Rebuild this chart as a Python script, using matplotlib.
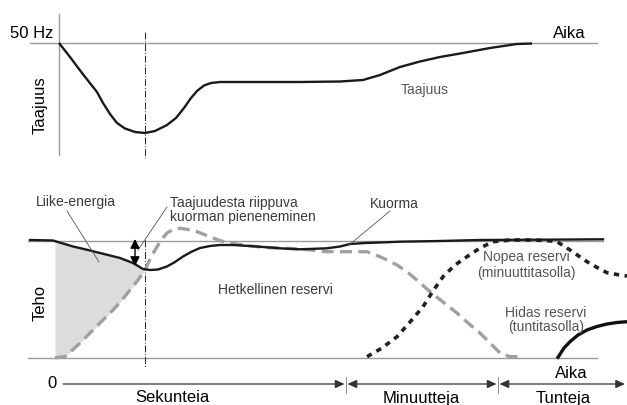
import numpy as np
import matplotlib
matplotlib.use("Agg")
import matplotlib.pyplot as plt

plt.rcParams['font.family'] = ['Liberation Sans', 'DejaVu Sans']

# Frequency curve (top panel) in pixel units
freq_x = [59, 70, 82, 97, 103, 110, 117, 125, 135, 145, 155, 167, 176, 184, 191, 197, 204, 211, 220, 240, 270, 300, 340, 363, 380, 400, 420, 440, 463, 490, 517, 532]
freq_y = [43, 57, 73, 92, 103, 114, 123, 128.5, 132, 133, 131, 125, 118, 108, 98, 91, 85.5, 83, 82, 82, 82, 82, 81.5, 80, 75, 67, 61.5, 57, 53, 48, 44, 43.5]

# Load curve ("Kuorma")
load_x = [30, 53, 63, 73, 86, 100, 120, 133, 143, 150, 158, 167, 175, 183, 192, 200, 210, 220, 233, 250, 267, 283, 300, 327, 340, 350, 365, 380, 400, 440, 480, 540, 603]
load_y = [240, 240.5, 243.5, 246.5, 249.5, 253, 258, 263, 269, 270, 269.5, 266.5, 262, 256.5, 251.5, 248, 246, 245, 245, 246, 247.3, 248.5, 249.3, 248.3, 246.5, 244, 243, 242.5, 241.7, 241, 240, 239.7, 239.3]

# Instantaneous reserve (grey dashed)
inst_x = [55, 65, 78, 90, 102, 113, 122, 130, 138, 145, 151, 157, 162, 167, 173, 180, 188, 197, 208, 220, 233, 250, 267, 300, 327, 347, 367, 380, 387, 397, 407, 418, 430, 443, 457, 468, 480, 490, 500, 510, 522]
inst_y = [357.7, 356.7, 345, 333, 321, 310, 300, 290, 280, 270, 257, 246.7, 239, 233, 229.5, 228.3, 229.5, 231.7, 236, 240.7, 243.5, 246, 247.5, 249, 251.7, 251.7, 251.7, 256.7, 260, 265, 271.7, 281, 291.7, 302, 313, 323, 333, 343, 353, 356.7, 356.7]

# Fast reserve, minute scale (black dotted)
fast_x = [367, 382, 397, 410, 423, 433, 443, 455, 467, 480, 493, 510, 533, 548, 557, 570, 587, 598, 607, 617, 627]
fast_y = [356.7, 348, 336.7, 322, 306.7, 291, 276.7, 265, 256.7, 248, 241.7, 240, 240, 240.7, 241.7, 250, 261.7, 268, 272.7, 274.5, 276]

# Slow reserve, hour scale (black solid)
slow_x = [558, 564, 570, 578, 587, 597, 607, 617, 627]
slow_y = [357.3, 348, 341.7, 335, 330, 326.5, 324, 322.5, 321.7]

# Time scale segments and labels
seg_edges = [63, 346, 498, 625]
seg_labels = ['Sekunteia', 'Minuutteja', 'Tunteja']
seg_label_x = [172, 421, 563]

fig = plt.figure(figsize=(6.27, 4.05), dpi=100)
ax = fig.add_axes([0, 0, 1, 1])
ax.set_xlim(0, 627)
ax.set_ylim(405, 0)
ax.axis('off')

ref = '#9a9a9a'
txt = '#3a3a3a'
small = 10

# ---- top panel: frequency ----
ax.plot([59, 59], [14, 155], color=ref, lw=1.0)
ax.plot([30, 597], [43, 43], color=ref, lw=1.0)
ax.plot([145, 145], [32, 158], color='#222', lw=0.7, linestyle=(0, (7, 2, 1, 2)))
ax.plot(freq_x, freq_y, color='#1a1a1a', lw=1.7, solid_capstyle='butt')
ax.text(53, 34, '50 Hz', fontsize=12, ha='right', va='center')
ax.text(569, 34, 'Aika', fontsize=12, ha='center', va='center')
ax.text(40, 105, 'Taajuus', fontsize=12, rotation=90, ha='center', va='center')
ax.text(425, 90, 'Taajuus', fontsize=small, color='#555', ha='center', va='center')

# ---- bottom panel: power ----
ax.plot([28, 603], [240.5, 240.5], color=ref, lw=1.0)
ax.plot([28, 597], [358, 358], color=ref, lw=1.0)

# kinetic energy area between load curve and instantaneous reserve
xf = np.linspace(55, 145, 200)
ax.fill_between(xf, np.interp(xf, load_x, load_y), np.interp(xf, inst_x, inst_y),
                color='#dcdcdc', lw=0)

ax.plot([145, 145], [240, 367], color='#222', lw=0.7, linestyle=(0, (7, 2, 1, 2)))
ax.plot(inst_x, inst_y, color='#a0a0a0', lw=2.4, linestyle=(0, (3.6, 1.9)))
ax.plot(fast_x, fast_y, color='#222', lw=2.6, linestyle=(0, (1.5, 1.5)))
ax.plot(load_x, load_y, color='#1a1a1a', lw=1.7)
ax.plot(slow_x, slow_y, color='#111', lw=2.4)

# double arrow for frequency dependent load reduction
ax.annotate('', xy=(135, 239), xytext=(135, 266),
            arrowprops=dict(arrowstyle='<|-|>,head_length=0.55,head_width=0.28',
                            color='black', lw=1.0, shrinkA=0, shrinkB=0))

# annotations with leader lines
ax.text(36, 202, 'Liike-energia', fontsize=small, color=txt, ha='left', va='center')
ax.plot([67, 99], [211, 262], color='#555', lw=0.6)
ax.text(170, 203, 'Taajuudesta riippuva', fontsize=small, color=txt, ha='left', va='center')
ax.text(170, 217, 'kuorman pieneneminen', fontsize=small, color=txt, ha='left', va='center')
ax.plot([167, 138], [207, 250], color='#555', lw=0.6)
ax.text(370, 204, 'Kuorma', fontsize=small, color=txt, ha='left', va='center')
ax.plot([390, 349], [211, 245], color='#555', lw=0.6)
ax.text(218, 290, 'Hetkellinen reservi', fontsize=small, color=txt, ha='left', va='center')
ax.text(526, 257, 'Nopea reservi', fontsize=small, color='#555', ha='center', va='center')
ax.text(526, 273, '(minuuttitasolla)', fontsize=small, color='#555', ha='center', va='center')
ax.text(546, 313, 'Hidas reservi', fontsize=small, color='#555', ha='center', va='center')
ax.text(546, 327, '(tuntitasolla)', fontsize=small, color='#555', ha='center', va='center')
ax.text(40, 303, 'Teho', fontsize=12, rotation=90, ha='center', va='center')

# ---- time axis ----
ax.text(52, 384, '0', fontsize=12, ha='center', va='center')
for i in range(len(seg_labels)):
    style = '-|>' if i == 0 else '<|-|>'
    x0 = seg_edges[i] + (0 if i == 0 else 1.5)
    x1 = seg_edges[i + 1] - (0 if i == len(seg_labels) - 1 else 1.5)
    ax.annotate('', xy=(x1, 384), xytext=(x0, 384),
                arrowprops=dict(arrowstyle=style + ',head_length=0.55,head_width=0.25',
                                color='#333', lw=0.9, shrinkA=0, shrinkB=0))
    ax.text(seg_label_x[i], 398, seg_labels[i], fontsize=12, ha='center', va='center')
for xe in seg_edges[1:-1]:
    ax.plot([xe, xe], [377, 393], color='#777', lw=0.6)
ax.text(571, 373, 'Aika', fontsize=12, ha='center', va='center')

fig.savefig('out.png', dpi=100)
